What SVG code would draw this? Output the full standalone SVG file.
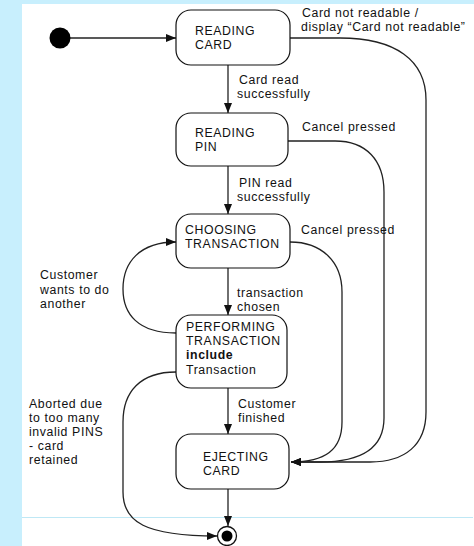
<svg xmlns="http://www.w3.org/2000/svg" width="474" height="546" viewBox="0 0 474 546">
  <defs>
    <marker id="arrow" markerUnits="userSpaceOnUse" markerWidth="10" markerHeight="8" refX="10" refY="4" orient="auto">
      <path d="M0,0 L10,4 L0,8 z" fill="#111"/>
    </marker>
    <style>
      text { font-family: "Liberation Sans", Arial, sans-serif; font-size: 12.3px; letter-spacing: 0.6px; fill: #111; }
      .state rect { fill: #fff; stroke: #111; stroke-width: 1.2; }
      .edge { fill: none; stroke: #222; stroke-width: 1.3; marker-end: url(#arrow); }
      .bold { font-weight: bold; }
    </style>
  </defs>

  <!-- page background -->
  <rect x="0" y="0" width="474" height="546" fill="#c8effd"/>
  <rect x="22" y="4" width="452" height="542" fill="#fff"/>
  <line x1="22" y1="517.5" x2="473" y2="517.5" stroke="#bfe8f5" stroke-width="1"/>

  <!-- transitions -->
  <g id="connectors">
    <path class="edge" d="M70,38 L176,38"/>
    <path class="edge" d="M228,65 L228,113"/>
    <path class="edge" d="M228,166 L228,214"/>
    <path class="edge" d="M228,268 L228,315"/>
    <path class="edge" d="M228,388 L228,434"/>
    <path class="edge" d="M228,489 L228,526"/>
    <!-- customer wants to do another -->
    <path class="edge" d="M176,333 C138,333 123,314 123,289 C123,262 140,242 176,242"/>
    <!-- aborted: too many invalid PINs -->
    <path class="edge" d="M176,372 C140,372 123,392 123,422 L123,492 C123,522 145,536 217,536"/>
    <!-- cancel from choosing transaction -->
    <path class="edge" d="M290,242 C322,242 342,262 342,292 L342,422 C342,450 325,462 291,462"/>
    <!-- cancel from reading pin -->
    <path class="edge" d="M288,141 L335,141 C366,141 384,160 384,192 L384,418 C384,448 362,462 320,462 L291,462"/>
    <!-- card not readable -->
    <path class="edge" d="M290,38 L340,38 C395,38 426,60 426,100 L426,412 C426,445 405,462 370,462 L291,462"/>
  </g>

  <!-- states -->
  <g id="initial">
    <circle cx="60" cy="38" r="10.5" fill="#000"/>
  </g>
  <g id="reading-card" class="state">
    <rect x="176" y="10" width="114" height="55" rx="15"/>
    <text x="195" y="35">READING</text>
    <text x="195" y="49">CARD</text>
  </g>
  <g id="reading-pin" class="state">
    <rect x="176" y="113" width="112" height="53" rx="15"/>
    <text x="195" y="137">READING</text>
    <text x="195" y="151">PIN</text>
  </g>
  <g id="choosing-transaction" class="state">
    <rect x="176" y="214" width="114" height="54" rx="15"/>
    <text x="185" y="234">CHOOSING</text>
    <text x="185" y="248">TRANSACTION</text>
  </g>
  <g id="performing-transaction" class="state">
    <rect x="176" y="315" width="111" height="73" rx="15"/>
    <text x="186" y="331">PERFORMING</text>
    <text x="186" y="345">TRANSACTION</text>
    <text x="186" y="359" class="bold">include</text>
    <text x="186" y="374">Transaction</text>
  </g>
  <g id="ejecting-card" class="state">
    <rect x="176" y="434" width="113" height="55" rx="15"/>
    <text x="203" y="461">EJECTING</text>
    <text x="203" y="475">CARD</text>
  </g>
  <g id="final">
    <circle cx="227" cy="536" r="9.5" fill="#fff" stroke="#111" stroke-width="1.3"/>
    <circle cx="227" cy="536" r="5.5" fill="#000"/>
  </g>

  <!-- transition labels -->
  <g id="labels">
    <text x="302" y="17">Card not readable /</text>
    <text x="301" y="31">display “Card not readable”</text>
    <text x="239" y="84">Card read</text>
    <text x="237" y="98">successfully</text>
    <text x="302" y="131">Cancel pressed</text>
    <text x="239" y="187">PIN read</text>
    <text x="237" y="201">successfully</text>
    <text x="301" y="234">Cancel pressed</text>
    <text x="237" y="297">transaction</text>
    <text x="237" y="311">chosen</text>
    <text x="40" y="279">Customer</text>
    <text x="40" y="294">wants to do</text>
    <text x="40" y="308">another</text>
    <text x="238" y="408">Customer</text>
    <text x="238" y="422">finished</text>
    <text x="29" y="408">Aborted due</text>
    <text x="29" y="422">to too many</text>
    <text x="29" y="436">invalid PINS</text>
    <text x="29" y="450">- card</text>
    <text x="29" y="464">retained</text>
  </g>
</svg>
